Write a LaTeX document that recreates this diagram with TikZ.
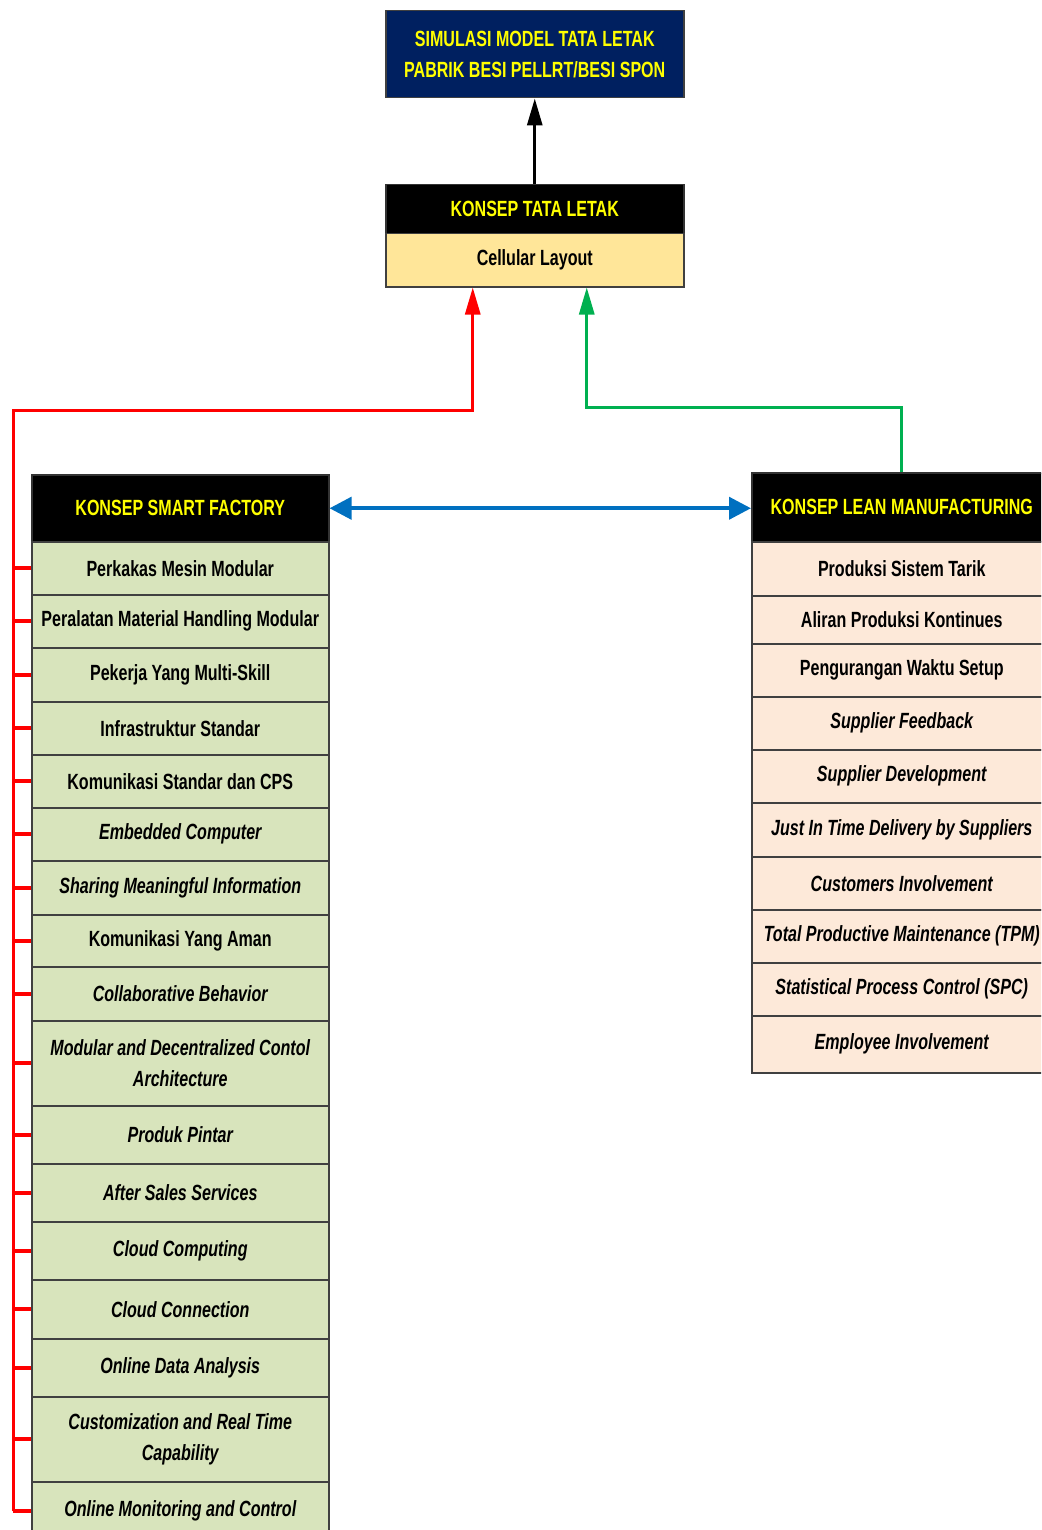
\documentclass[tikz,border=0pt]{standalone}
\usepackage{fontspec}
\setmainfont{Liberation Sans}[FakeStretch=0.73]
\usetikzlibrary{arrows.meta}
\definecolor{navybox}{HTML}{002060}
\definecolor{headyellow}{HTML}{FFFF00}
\definecolor{layoutfill}{HTML}{FFE699}
\definecolor{sfgreen}{HTML}{D8E4BC}
\definecolor{lmpeach}{HTML}{FDE9D9}
\definecolor{linkred}{HTML}{FF0000}
\definecolor{linkgreen}{HTML}{00B050}
\definecolor{linkblue}{HTML}{0070C0}
\definecolor{cellline}{HTML}{404040}

% one row of the Smart Factory list, hooked to the red spine
\newcommand{\sfrow}[4]{%
  \node[sfitem, minimum height={#3-#2}] (#1) at (31,#2) {#4};
  \draw[redtick] (#1.west) -- (#1.west -| spine);}
% one row of the Lean Manufacturing list
\newcommand{\lmrow}[4]{%
  \node[lmitem, minimum height={#3-#2}] (#1) at (751,#2) {#4};}

\begin{document}
\begin{tikzpicture}[x=1pt,y=-1pt,
  box/.style={draw=cellline, line width=1.5pt, anchor=north west, inner sep=0pt,
    align=center, font=\fontsize{22}{31}\selectfont\bfseries},
  head/.style={box, fill=black, text=headyellow, draw=black!80},
  sfitem/.style={box, fill=sfgreen, minimum width=297pt},
  lmitem/.style={box, fill=lmpeach, minimum width=300pt},
  redline/.style={draw=linkred, line width=3pt},
  redtick/.style={draw=linkred, line width=4pt},
  tip/.style={-{Triangle[length=27pt,width=15pt]}},
  bothtips/.style={{Triangle[length=22pt,width=22pt]}-{Triangle[length=22pt,width=22pt]}},
]
\useasboundingbox (0,0) rectangle (1041,1530);
\clip (0,0) rectangle (1041,1530);

% top goal and layout concept
\node[box, fill=navybox, text=headyellow, minimum width=298pt, minimum height=87pt]
  (sim) at (385,10) {SIMULASI MODEL TATA LETAK\\PABRIK BESI PELLRT/BESI SPON};
\node[head, minimum width=298pt, minimum height=49pt] (tlhead) at (385,184) {KONSEP TATA LETAK};
\node[box, fill=layoutfill, minimum width=298pt, minimum height=53pt] (cl) at (385,233) {Cellular Layout};
\draw[line width=3pt, tip] (tlhead.north) -- (sim.south);

% Smart Factory column
\coordinate (spine) at (13,410);
\node[head, minimum width=297pt, minimum height=67pt] (sfhead) at (31,474) {KONSEP SMART FACTORY};
\sfrow{sf1}{541}{594}{Perkakas Mesin Modular}
\sfrow{sf2}{594}{647}{Peralatan Material Handling Modular}
\sfrow{sf3}{647}{701}{Pekerja Yang Multi-Skill}
\sfrow{sf4}{701}{754}{Infrastruktur Standar}
\sfrow{sf5}{754}{807}{Komunikasi Standar dan CPS}
\sfrow{sf6}{807}{860}{\itshape Embedded Computer}
\sfrow{sf7}{860}{914}{\itshape Sharing Meaningful Information}
\sfrow{sf8}{914}{966}{Komunikasi Yang Aman}
\sfrow{sf9}{966}{1020}{\itshape Collaborative Behavior}
\sfrow{sf10}{1020}{1105}{\itshape Modular and Decentralized Contol\\\itshape Architecture}
\sfrow{sf11}{1105}{1163}{\itshape Produk Pintar}
\sfrow{sf12}{1163}{1221}{\itshape After Sales Services}
\sfrow{sf13}{1221}{1279}{\itshape Cloud Computing}
\sfrow{sf14}{1279}{1338}{\itshape Cloud Connection}
\sfrow{sf15}{1338}{1396}{\itshape Online Data Analysis}
\sfrow{sf16}{1396}{1481}{\itshape Customization and Real Time\\\itshape Capability}
\sfrow{sf17}{1481}{1540}{\itshape Online Monitoring and Control}

% red spine up to the layout concept
\draw[redline, tip] (sf17.west -| spine) -- (spine) -| ([xshift=-62pt]cl.south);

% Lean Manufacturing column
\node[head, minimum width=300pt, minimum height=69pt] (lmhead) at (751,472) {KONSEP LEAN MANUFACTURING};
\lmrow{lm1}{541}{595}{Produksi Sistem Tarik}
\lmrow{lm2}{595}{643}{Aliran Produksi Kontinues}
\lmrow{lm3}{643}{696}{Pengurangan Waktu Setup}
\lmrow{lm4}{696}{749}{\itshape Supplier Feedback}
\lmrow{lm5}{749}{802}{\itshape Supplier Development}
\lmrow{lm6}{802}{856}{\itshape Just In Time Delivery by Suppliers}
\lmrow{lm7}{856}{909}{\itshape Customers Involvement}
\lmrow{lm8}{909}{962}{\itshape Total Productive Maintenance (TPM)}
\lmrow{lm9}{962}{1015}{\itshape Statistical Process Control (SPC)}
\lmrow{lm10}{1015}{1072}{\itshape Employee Involvement}

% green link up to the layout concept
\draw[draw=linkgreen, line width=3pt, tip] (lmhead.north) -- ++(0,-65) -| ([xshift=52pt]cl.south);

% two-way link between the concepts
\draw[draw=linkblue, line width=4pt, bothtips]
  (sfhead.east) -- (lmhead.west |- sfhead.east);
\end{tikzpicture}
\end{document}
